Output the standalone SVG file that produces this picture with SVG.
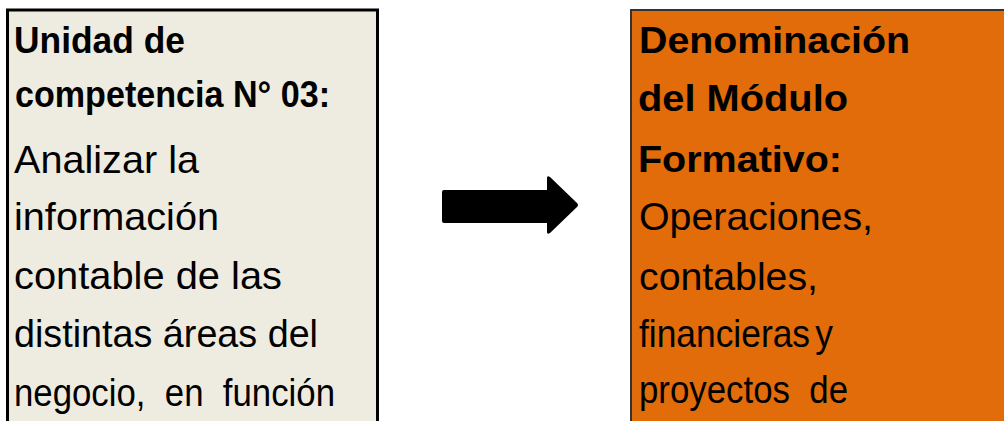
<svg xmlns="http://www.w3.org/2000/svg" width="1004" height="421" viewBox="0 0 1004 421">
<style>
.t{font-family:"Liberation Sans",Arial,sans-serif;fill:#000;white-space:pre}
.b{font-weight:bold;font-size:36px}
.r{font-size:39px}
</style>
<rect width="1004" height="421" fill="#fff"/>
<g id="unidad">
<rect x="7.5" y="10" width="370" height="440" fill="#EEECE1" stroke="#000" stroke-width="3"/>
<text class="t b" x="14" y="53" textLength="171" lengthAdjust="spacingAndGlyphs">Unidad de</text>
<text class="t b" x="15" y="107" textLength="315" lengthAdjust="spacingAndGlyphs">competencia N° 03:</text>
<text class="t r" x="14" y="173" textLength="185" lengthAdjust="spacingAndGlyphs">Analizar la</text>
<text class="t r" x="14" y="230" textLength="205" lengthAdjust="spacingAndGlyphs">información</text>
<text class="t r" x="14" y="289" textLength="268" lengthAdjust="spacingAndGlyphs">contable de las</text>
<text class="t r" x="14" y="347" textLength="304" lengthAdjust="spacingAndGlyphs">distintas áreas del</text>
<text class="t r" x="14" y="406" textLength="321" lengthAdjust="spacingAndGlyphs" xml:space="preserve">negocio,  en  función</text>
</g>
<g id="modulo">
<rect x="631" y="10" width="400" height="440" fill="#E26B0A" stroke="#333" stroke-width="2"/>
<text class="t b" x="639" y="53" textLength="271" lengthAdjust="spacingAndGlyphs">Denominación</text>
<text class="t b" x="638" y="111" textLength="210" lengthAdjust="spacingAndGlyphs">del Módulo</text>
<text class="t b" x="638" y="172" textLength="204" lengthAdjust="spacingAndGlyphs">Formativo:</text>
<text class="t r" x="639" y="230" textLength="234" lengthAdjust="spacingAndGlyphs">Operaciones,</text>
<text class="t r" x="639" y="290" textLength="179" lengthAdjust="spacingAndGlyphs">contables,</text>
<text class="t r" x="639" y="347" textLength="194" lengthAdjust="spacingAndGlyphs" word-spacing="-5">financieras y</text>
<text class="t r" x="639" y="403" textLength="209" lengthAdjust="spacingAndGlyphs" xml:space="preserve">proyectos  de</text>
</g>
<g id="connectors">
<path d="M444,190 L547,190 L547,178 Q547,175 550,177 L577,203 Q579,205 577,207 L550,233 Q547,235 547,232 L547,223 L444,223 Q442,223 442,221 L442,192 Q442,190 444,190 Z" fill="#000"/>
</g>
</svg>
